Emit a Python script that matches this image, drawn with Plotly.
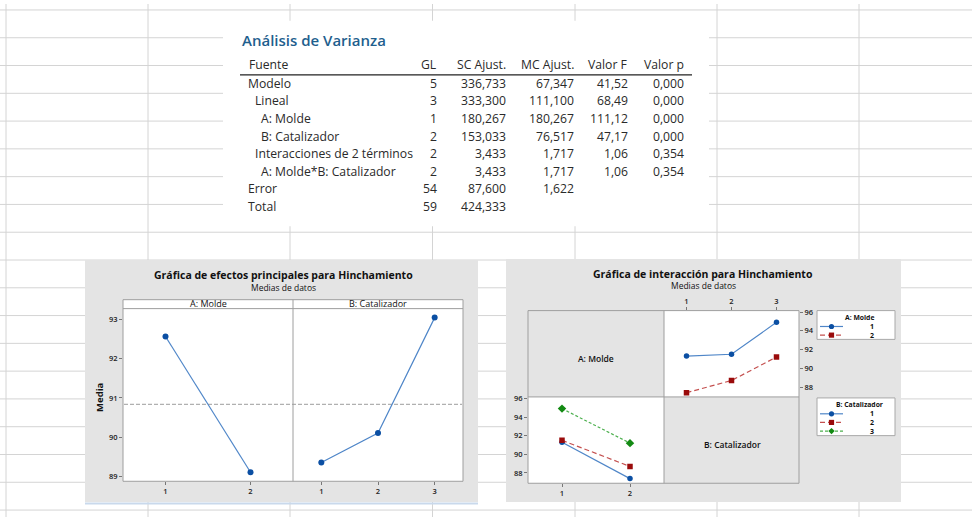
import plotly.graph_objects as go

W, H = 972, 517
def px(x): return x / W
def py(y): return 1 - y / H

# ---------------- data ----------------
headers = ["Fuente", "GL", "SC Ajust.", "MC Ajust.", "Valor F", "Valor p"]
fuente = ["Modelo", "Lineal", "A: Molde", "B: Catalizador",
          "Interacciones de 2 términos", "A: Molde*B: Catalizador", "Error", "Total"]
nivel = [0, 1, 2, 2, 1, 2, 0, 0]
gl = ["5", "3", "1", "2", "2", "2", "54", "59"]
sc_ajust = ["336,733", "333,300", "180,267", "153,033", "3,433", "3,433", "87,600", "424,333"]
mc_ajust = ["67,347", "111,100", "180,267", "76,517", "1,717", "1,717", "1,622", ""]
valor_f = ["41,52", "68,49", "111,12", "47,17", "1,06", "1,06", "", ""]
valor_p = ["0,000", "0,000", "0,000", "0,000", "0,354", "0,354", "", ""]

molde_levels = [1, 2]
molde_means = [92.567, 89.1]
cat_levels = [1, 2, 3]
cat_means = [89.35, 90.1, 93.05]
grand_mean = 90.833

# interaction cell means: rows = Molde level, columns = Catalizador level
inter_molde1 = [91.3, 91.5, 94.9]
inter_molde2 = [87.4, 88.7, 91.2]

me_yticks = [89, 90, 91, 92, 93]
int_yticks = [88, 90, 92, 94, 96]

# ---------------- styles ----------------
FONT = "Open Sans"
GRID = "#d4d4d4"
PANEL = "#e4e4e4"
FRAME = "#9e9e9e"
blue_m, blue_l = "#0b4fa3", "#4f86c8"
red_m, red_l = "#9a0b0b", "#c4504f"
green_m, green_l = "#138a13", "#4db04f"

shapes = []
ann = []

def rect(x0, y0, x1, y1, fill=None, line=None, layer="below", lw=1):
    shapes.append(dict(type="rect", xref="paper", yref="paper",
                       x0=px(x0), x1=px(x1), y0=py(y1), y1=py(y0),
                       fillcolor=fill if fill else "rgba(0,0,0,0)",
                       line=dict(color=line if line else "rgba(0,0,0,0)", width=lw if line else 0),
                       layer=layer))

def hline(y, x0, x1, color=GRID, width=1, dash=None, layer="below"):
    shapes.append(dict(type="line", xref="paper", yref="paper", x0=px(x0), x1=px(x1),
                       y0=py(y), y1=py(y), line=dict(color=color, width=width, dash=dash), layer=layer))

def vline(x, y0, y1, color=GRID, width=1, layer="below"):
    shapes.append(dict(type="line", xref="paper", yref="paper", x0=px(x), x1=px(x),
                       y0=py(y0), y1=py(y1), line=dict(color=color, width=width), layer=layer))

def text(x, y, s, size=9, color="#222", xanchor="center", weight=400, angle=0, family=FONT):
    ann.append(dict(xref="paper", yref="paper", x=px(x), y=py(y), text=s, showarrow=False,
                    xanchor=xanchor, yanchor="middle", textangle=angle,
                    font=dict(family=family, size=size, color=color, weight=weight)))

# ---------------- spreadsheet background ----------------
for k in range(19):
    hline(6 + 28 * k, 0, W)
for x in [6, 148, 290, 432.5, 575, 717, 859]:
    vline(x, 0, H)

# table image (white)
rect(223, 17, 709, 224, fill="white")
# chart images
rect(85, 258, 478, 502, fill=PANEL)
hline(503.5, 85, 478, color="#c9d9ec", width=2)
rect(506, 257, 901, 502, fill=PANEL)

# ---------------- ANOVA table ----------------
text(240, 36, "Análisis de Varianza", size=15, color="#1f5f8e", xanchor="left", weight=600)
col_right = [None, 438, 507, 575, 629, 685]
TS = 12.2
TC = "#2a2a2a"
text(247, 61, headers[0], size=TS, xanchor="left", color=TC)
for h, xr in zip(headers[1:], col_right[1:]):
    text(xr + 1, 61, h, size=TS, xanchor="right", color=TC)
hline(71.5, 240, 692, color="#222", width=1.2)
indent = {0: 246, 1: 253, 2: 259}
for i, name in enumerate(fuente):
    y = 80 + i * 17.7
    text(indent[nivel[i]], y, name, size=TS, xanchor="left", color=TC)
    for col, xr in zip([gl, sc_ajust, mc_ajust, valor_f, valor_p], col_right[1:]):
        if col[i]:
            text(xr + 1, y, col[i], size=TS, xanchor="right", color=TC)

# ---------------- main effects chart ----------------
rect(123, 298, 463, 481, fill="white")
rect(123, 298, 463, 481, line=FRAME, layer="above")
hline(307, 123, 463, color=FRAME, layer="above")
vline(293, 298, 481, color=FRAME, layer="above")
text(283, 273, "Gráfica de efectos principales para Hinchamiento", size=10.5, color="#111", weight=700)
text(283, 286, "Medias de datos", size=8.5, color="#111")
text(208, 302.3, "A: Molde", size=9, color="#111")
text(378, 302.3, "B: Catalizador", size=9, color="#111")
text(100, 397, "Media", size=9.5, color="#111", weight=700, angle=-90)

# mean reference line (data-derived y)
shapes.append(dict(type="line", xref="paper", yref="y", x0=px(124), x1=px(462),
                   y0=grand_mean, y1=grand_mean,
                   line=dict(color="#b0b0b0", width=1.2, dash="4px,2px"), layer="below"))

# ---------------- interaction chart ----------------
rect(528, 309, 799, 483, fill=PANEL)
rect(664, 309, 799, 396, fill="white")
rect(528, 396, 664, 483, fill="white")
rect(528, 309, 799, 483, line=FRAME, layer="above")
vline(664, 309, 483, color=FRAME, layer="above")
hline(396, 528, 799, color=FRAME, layer="above")
text(703, 272, "Gráfica de interacción para Hinchamiento", size=10.5, color="#111", weight=700)
text(703, 284, "Medias de datos", size=8.5, color="#111")
text(596, 357, "A: Molde", size=8.5, color="#111", weight=600)
text(732, 444, "B: Catalizador", size=8.5, color="#111", weight=600)

# legends (drawn as decoration boxes)
def legend_box(y0, y1, title, labels, colors, lines, dashes, symbols):
    rect(817, y0, 895, y1, fill="white", line="#a8a8a8")
    text(859, y0 + 7, title, size=6.8, color="#111", weight=700)
    for j, lab in enumerate(labels):
        yy = y0 + 16 + j * 8.7
        hline(yy, 820, 843, color=lines[j], width=1.2, dash=dashes[j], layer="above")
        cx = 831.5
        if symbols[j] == "circle":
            shapes.append(dict(type="circle", xref="paper", yref="paper", x0=px(cx - 2.6), x1=px(cx + 2.6),
                               y0=py(yy + 2.6), y1=py(yy - 2.6), fillcolor=colors[j],
                               line=dict(width=0), layer="above"))
        elif symbols[j] == "square":
            rect(cx - 2.6, yy - 2.6, cx + 2.6, yy + 2.6, fill=colors[j], layer="above")
        else:
            d = 3.2
            path = "M {} {} L {} {} L {} {} L {} {} Z".format(
                px(cx), py(yy - d), px(cx + d), py(yy), px(cx), py(yy + d), px(cx - d), py(yy))
            shapes.append(dict(type="path", xref="paper", yref="paper", path=path,
                               fillcolor=colors[j], line=dict(width=0), layer="above"))
        text(876, yy, lab, size=7, color="#111", xanchor="right", weight=700)

legend_box(309, 338, "A: Molde", [str(v) for v in molde_levels],
           [blue_m, red_m], [blue_l, red_l], [None, "5px,3px"], ["circle", "square"])
legend_box(397, 435, "B: Catalizador", [str(v) for v in cat_levels],
           [blue_m, red_m, green_m], [blue_l, red_l, green_l], [None, "5px,3px", "3px,2px"],
           ["circle", "square", "diamond"])

# ---------------- traces ----------------
fig = go.Figure()
fig.add_trace(go.Scatter(x=molde_levels, y=molde_means, xaxis="x", yaxis="y", mode="lines+markers",
                         line=dict(color=blue_l, width=1.2), marker=dict(color=blue_m, size=6),
                         showlegend=False))
fig.add_trace(go.Scatter(x=cat_levels, y=cat_means, xaxis="x2", yaxis="y", mode="lines+markers",
                         line=dict(color=blue_l, width=1.2), marker=dict(color=blue_m, size=6),
                         showlegend=False))

molde_series = [inter_molde1, inter_molde2]
sty_m = [(blue_m, blue_l, None, "circle", 5.5), (red_m, red_l, "5px,3px", "square", 5.5)]
for vals, (mc, lc, dash, sym, sz) in zip(molde_series, sty_m):
    fig.add_trace(go.Scatter(x=cat_levels, y=vals, xaxis="x3", yaxis="y3", mode="lines+markers",
                             line=dict(color=lc, width=1.2, dash=dash),
                             marker=dict(color=mc, size=sz, symbol=sym), showlegend=False))

sty_c = [(blue_m, blue_l, None, "circle", 5.5), (red_m, red_l, "5px,3px", "square", 5.5),
         (green_m, green_l, "3px,2px", "diamond", 6.5)]
for j, (mc, lc, dash, sym, sz) in enumerate(sty_c):
    fig.add_trace(go.Scatter(x=molde_levels, y=[molde_series[0][j], molde_series[1][j]],
                             xaxis="x4", yaxis="y4", mode="lines+markers",
                             line=dict(color=lc, width=1.2, dash=dash),
                             marker=dict(color=mc, size=sz, symbol=sym), showlegend=False))

tickfont = dict(family=FONT, size=7.5, color="#222", weight=600)
common_ax = dict(showgrid=False, zeroline=False, showline=False, ticks="outside", ticklen=3,
                 tickwidth=1, tickcolor="#777", tickfont=tickfont, fixedrange=True)

fig.update_layout(
    width=W, height=H, margin=dict(l=0, r=0, t=0, b=0),
    paper_bgcolor="white", plot_bgcolor="white",
    showlegend=False, shapes=shapes, annotations=ann,
    xaxis=dict(domain=[px(123), px(293)], range=[0.5, 2.5], anchor="y",
               tickvals=molde_levels, ticktext=[str(v) for v in molde_levels], **common_ax),
    xaxis2=dict(domain=[px(293), px(463)], range=[0.5, 3.5], anchor="y",
                tickvals=cat_levels, ticktext=[str(v) for v in cat_levels], **common_ax),
    yaxis=dict(domain=[py(481), py(307)], range=[88.87, 93.28], anchor="x",
               tickvals=me_yticks, **common_ax),
    xaxis3=dict(domain=[px(664), px(799)], range=[0.5, 3.5], anchor="y3", side="top",
                tickvals=cat_levels, ticktext=[str(v) for v in cat_levels], **common_ax),
    yaxis3=dict(domain=[py(396), py(309)], range=[86.95, 96.15], anchor="x3", side="right",
                tickvals=int_yticks, **common_ax),
    xaxis4=dict(domain=[px(528), px(664)], range=[0.5, 2.5], anchor="y4",
                tickvals=molde_levels, ticktext=[str(v) for v in molde_levels], **common_ax),
    yaxis4=dict(domain=[py(483), py(396)], range=[86.9, 96.15], anchor="x4",
                tickvals=int_yticks, **common_ax),
)

fig.write_html("out.html")
